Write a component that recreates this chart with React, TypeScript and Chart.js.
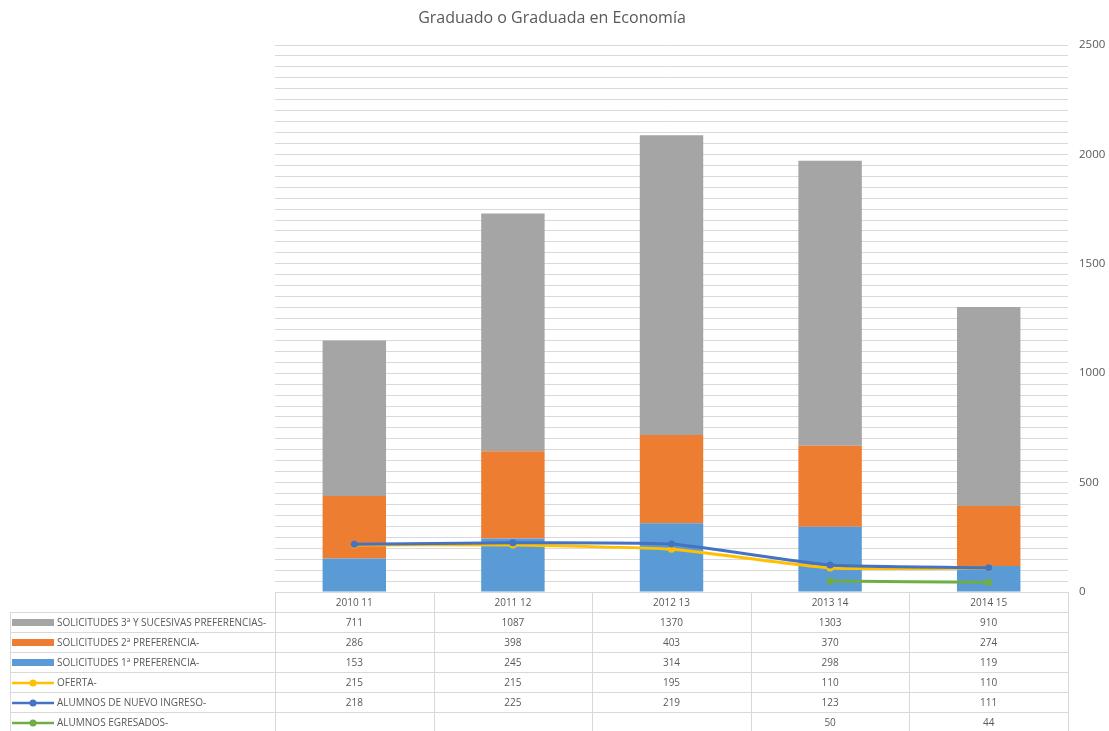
import React, { useEffect, useRef } from "react";
import { Chart, registerables } from "chart.js";

Chart.register(...registerables);

const title = "Graduado o Graduada en Economía";
const categories = ["2010 11", "2011 12", "2012 13", "2013 14", "2014 15"];
const solicitudes3 = [711, 1087, 1370, 1303, 910];
const solicitudes2 = [286, 398, 403, 370, 274];
const solicitudes1 = [153, 245, 314, 298, 119];
const oferta = [215, 215, 195, 110, 110];
const nuevoIngreso = [218, 225, 219, 123, 111];
const egresados: (number | null)[] = [null, null, null, 50, 44];

const labels3 = "SOLICITUDES 3ª Y SUCESIVAS PREFERENCIAS-";
const labels2 = "SOLICITUDES 2ª PREFERENCIA-";
const labels1 = "SOLICITUDES 1ª PREFERENCIA-";
const labelOferta = "OFERTA-";
const labelNuevo = "ALUMNOS DE NUEVO INGRESO-";
const labelEgresados = "ALUMNOS EGRESADOS-";

const C_GRAY = "#A5A5A5";
const C_ORANGE = "#ED7D31";
const C_BLUE = "#5B9BD5";
const C_YELLOW = "#FFC000";
const C_DBLUE = "#4472C4";
const C_GREEN = "#70AD47";

export default function App() {
  const ref = useRef<HTMLCanvasElement | null>(null);

  useEffect(() => {
    document.body.style.margin = "0";
    const canvas = ref.current;
    if (!canvas) return;

    const rows = [
      { label: labels3, values: solicitudes3 as (number | null)[], color: C_GRAY, kind: "bar" },
      { label: labels2, values: solicitudes2 as (number | null)[], color: C_ORANGE, kind: "bar" },
      { label: labels1, values: solicitudes1 as (number | null)[], color: C_BLUE, kind: "bar" },
      { label: labelOferta, values: oferta as (number | null)[], color: C_YELLOW, kind: "line" },
      { label: labelNuevo, values: nuevoIngreso as (number | null)[], color: C_DBLUE, kind: "line" },
      { label: labelEgresados, values: egresados, color: C_GREEN, kind: "line" },
    ];

    const tablePlugin = {
      id: "dataTable",
      afterDraw(chart: any) {
        const ctx = chart.ctx as CanvasRenderingContext2D;
        const area = chart.chartArea;
        const xs = chart.scales.x;
        const left = area.left;
        const right = area.right;
        const top = area.bottom;
        const rowH = 20;
        const colW = (right - left) / categories.length;
        const tableLeft = 10;
        const bottomY = top + rowH * (rows.length + 1);
        ctx.save();
        // title
        ctx.fillStyle = "#595959";
        ctx.font = "16px 'Open Sans'";
        ctx.textAlign = "center";
        ctx.textBaseline = "middle";
        ctx.fillText(title, 552, 18);

        // grid lines of table
        ctx.strokeStyle = "#d9d9d9";
        ctx.lineWidth = 1;
        ctx.beginPath();
        ctx.moveTo(left, top + 0.5);
        ctx.lineTo(right, top + 0.5);
        for (let r = 1; r <= rows.length + 1; r++) {
          const y = Math.round(top + r * rowH) + 0.5;
          ctx.moveTo(tableLeft, y);
          ctx.lineTo(right, y);
        }
        ctx.moveTo(tableLeft + 0.5, top + rowH);
        ctx.lineTo(tableLeft + 0.5, bottomY);
        for (let k = 0; k <= categories.length; k++) {
          const x = Math.round(left + k * colW) + 0.5;
          ctx.moveTo(x, top);
          ctx.lineTo(x, bottomY);
        }
        ctx.stroke();

        // header
        ctx.fillStyle = "#595959";
        ctx.font = "10px 'Open Sans'";
        ctx.textAlign = "center";
        ctx.textBaseline = "middle";
        categories.forEach((c, i) => {
          ctx.fillText(c, xs.getPixelForValue(i), top + rowH / 2 + 1);
        });

        rows.forEach((row, r) => {
          const cy = top + rowH * (r + 1) + rowH / 2 + 1;
          // legend swatch
          if (row.kind === "bar") {
            ctx.fillStyle = row.color;
            ctx.fillRect(12, cy - 4, 42, 7);
          } else {
            ctx.strokeStyle = row.color;
            ctx.lineWidth = 2.5;
            ctx.beginPath();
            ctx.moveTo(12, cy);
            ctx.lineTo(54, cy);
            ctx.stroke();
            ctx.fillStyle = row.color;
            ctx.beginPath();
            ctx.arc(33, cy, 3.5, 0, Math.PI * 2);
            ctx.fill();
          }
          ctx.fillStyle = "#595959";
          ctx.font = "10px 'Open Sans'";
          ctx.textAlign = "left";
          ctx.fillText(row.label, 57, cy, 215);
          ctx.textAlign = "center";
          row.values.forEach((v, i) => {
            if (v === null || v === undefined) return;
            ctx.fillText(String(v), xs.getPixelForValue(i), cy);
          });
        });
        ctx.restore();
      },
    };

    const chart = new Chart(canvas, {
      type: "bar",
      data: {
        labels: categories,
        datasets: [
          {
            type: "line",
            label: labelNuevo,
            data: nuevoIngreso,
            borderColor: C_DBLUE,
            backgroundColor: C_DBLUE,
            borderWidth: 3,
            pointRadius: 3.5,
            pointBorderWidth: 0,
            tension: 0.15,
            stack: "l2",
            order: 0,
          } as any,
          {
            type: "line",
            label: labelOferta,
            data: oferta,
            borderColor: C_YELLOW,
            backgroundColor: C_YELLOW,
            borderWidth: 3,
            pointRadius: 3.5,
            pointBorderWidth: 0,
            tension: 0.15,
            stack: "l1",
            order: 1,
          } as any,
          {
            type: "line",
            label: labelEgresados,
            data: egresados,
            borderColor: C_GREEN,
            backgroundColor: C_GREEN,
            borderWidth: 3,
            pointRadius: 3.5,
            pointBorderWidth: 0,
            tension: 0.15,
            spanGaps: false,
            stack: "l3",
            order: 0,
          } as any,
          {
            type: "bar",
            label: labels1,
            data: solicitudes1,
            backgroundColor: C_BLUE,
            stack: "bars",
            order: 2,
            barPercentage: 0.4,
            categoryPercentage: 1,
          } as any,
          {
            type: "bar",
            label: labels2,
            data: solicitudes2,
            backgroundColor: C_ORANGE,
            stack: "bars",
            order: 2,
            barPercentage: 0.4,
            categoryPercentage: 1,
          } as any,
          {
            type: "bar",
            label: labels3,
            data: solicitudes3,
            backgroundColor: C_GRAY,
            stack: "bars",
            order: 2,
            barPercentage: 0.4,
            categoryPercentage: 1,
          } as any,
        ],
      },
      options: {
        responsive: false,
        animation: false,
        layout: { padding: { left: 275, top: 45, bottom: 139, right: 0 } },
        plugins: {
          legend: { display: false },
          tooltip: { enabled: false },
          title: { display: false },
        },
        scales: {
          x: {
            display: false,
            stacked: true,
          },
          y: {
            position: "right",
            stacked: true,
            min: 0,
            max: 2500,
            border: { display: false },
            grid: { color: "#d9d9d9", lineWidth: 1, drawTicks: false },
            afterFit: (scale: any) => {
              scale.width = 41;
            },
            ticks: {
              stepSize: 50,
              autoSkip: false,
              padding: 11,
              crossAlign: "near",
              color: "#595959",
              font: { family: "'Open Sans'", size: 11.5 },
              callback: (v: any) => (Number(v) % 500 === 0 ? String(v) : ""),
            },
          },
        },
      } as any,
      plugins: [tablePlugin],
    });

    return () => chart.destroy();
  }, []);

  return <canvas ref={ref} width={1109} height={731} style={{ display: "block" }} />;
}
